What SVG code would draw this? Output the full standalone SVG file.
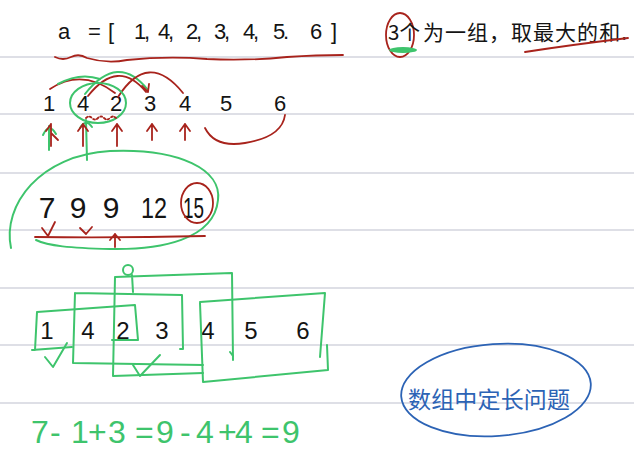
<svg xmlns="http://www.w3.org/2000/svg" width="634" height="461" viewBox="0 0 634 461">
<style>
.rule{stroke:#d3d5de;stroke-width:1.3}
.k{font-family:"Liberation Sans","DejaVu Sans",sans-serif;fill:#141414}
.cj{font-family:"Noto Sans CJK SC","Noto Sans",sans-serif}
.r{fill:none;stroke:#a8231c;stroke-width:1.8;stroke-linecap:round;stroke-linejoin:round}
.g{fill:none;stroke:#3ec46c;stroke-width:2;stroke-linecap:round;stroke-linejoin:round}
.b{fill:none;stroke:#2c63b5;stroke-width:1.8}
.gt{font-family:"Liberation Sans","DejaVu Sans",sans-serif;fill:#3ec46c}
</style>
<rect width="634" height="461" fill="#ffffff"/>
<g id="rules">
<line class="rule" x1="0" y1="57" x2="634" y2="57"/>
<line class="rule" x1="0" y1="114" x2="634" y2="114"/>
<line class="rule" x1="0" y1="173" x2="634" y2="173"/>
<line class="rule" x1="0" y1="230" x2="634" y2="230"/>
<line class="rule" x1="0" y1="288" x2="634" y2="288"/>
<line class="rule" x1="0" y1="345" x2="634" y2="345"/>
<line class="rule" x1="0" y1="403" x2="634" y2="403"/>
</g>
<g id="title">
<text class="k" font-size="22" y="39" x="58 88 108 134 144 158 168 186 196 214 224 243 253 273 283 310 331">a=[1,4,2,3,4,5.6]</text>
<path class="r" d="M55,57 q8,4 16,0 t16,1 q20,6 40,2 q40,-4 80,-1 q40,2 80,-2 q30,-2 56,-2"/>
</g>
<g id="note">
<ellipse class="r" cx="400" cy="35" rx="14" ry="22"/>
<ellipse cx="403" cy="50" rx="14" ry="3" fill="#3ec46c"/>
<text class="k cj" font-size="20" x="388" y="40" textLength="32" lengthAdjust="spacingAndGlyphs">3个</text>
<text class="k cj" font-size="21" x="423" y="40" textLength="204" lengthAdjust="spacing">为一组，取最大的和.</text>
<path class="r" d="M525,52 Q570,45 628,38"/>
</g>
<g id="row2">
<text class="k" font-size="22" y="111" text-anchor="middle"><tspan x="49">1</tspan><tspan x="83">4</tspan><tspan x="116">2</tspan><tspan x="150">3</tspan><tspan x="185">4</tspan><tspan x="226">5</tspan><tspan x="280">6</tspan></text>
</g>
<g id="connectors">
<path class="r" d="M50,89 Q82,68 115,93"/>
<path class="g" d="M58,84 Q80,72 100,79"/>
<path class="g" d="M85,94 Q118,52 148,90"/>
<path class="r" d="M88,96 Q118,58 146,92"/>
<path class="r" d="M142,86 L148,92 L149,84"/>
<path class="r" d="M118,97 Q148,50 183,93"/>
<ellipse class="g" cx="98" cy="103" rx="28" ry="20"/>
<path class="r" stroke-dasharray="2 2" d="M86,118 q3,-3 6,0 t6,0 t6,0 t6,0 t6,0"/>
<path class="g" d="M49,150 L49,126 M43,135 Q49,122 56,134"/>
<path class="g" d="M87,160 L86,120 M80,128 Q86,118 92,127"/>
<path class="r" d="M51,146 L51,124 M46,131 L51,124 M51,133 L58,140"/>
<path class="r" d="M83,146 L83,124 M78,131 L83,124 L88,131"/>
<path class="r" d="M117,146 L117,124 M112,131 L117,124 L122,131"/>
<path class="r" d="M152,140 L152,124 M147,131 L152,124 L157,131"/>
<path class="r" d="M185,140 L185,124 M180,131 L185,124 L190,131"/>
<path class="r" d="M205,128 Q215,148 245,143 Q282,137 285,115"/>
<path class="g" d="M11,248 C2,205 40,155 110,151 C180,148 222,170 218,200 C214,240 160,250 110,249 C70,248 48,246 36,240"/>
</g>
<g id="row3">
<text class="k" font-size="30" y="218" text-anchor="middle"><tspan x="47">7</tspan><tspan x="78">9</tspan><tspan x="111">9</tspan></text>
<text class="k" font-size="30" y="218" x="141" textLength="26" lengthAdjust="spacingAndGlyphs">12</text>
<text class="k" font-size="30" y="218" x="183" textLength="21" lengthAdjust="spacingAndGlyphs">15</text>
<ellipse class="r" cx="197" cy="203" rx="16" ry="20"/>
<path class="r" d="M42,228 L48,236 L55,222 M80,228 L86,234 L92,227"/>
<path class="r" d="M35,237 Q120,238 205,236"/>
<path class="r" d="M115,247 L115,234 M110,240 L115,234 L120,240"/>
</g>
<g id="row4">
<text class="k" font-size="24" y="339" text-anchor="middle"><tspan x="47">1</tspan><tspan x="88">4</tspan><tspan x="123">2</tspan><tspan x="162">3</tspan><tspan x="208">4</tspan><tspan x="251">5</tspan><tspan x="303">6</tspan></text>
</g>
<g id="windows">
<path class="g" d="M37,312 L135,305 L138,340 L112,340 M37,312 L35,350 M32,350 L72,347"/>
<path class="g" d="M75,293 L182,295 L183,349 L180,349 M75,293 L73,363 L203,365"/>
<path class="g" d="M115,277 L232,273 L233,360 M115,277 L113,376 L203,373 M132,275 L133,292"/>
<circle class="g" cx="128" cy="270" r="5"/>
<path class="g" d="M200,302 L325,293 L320,357 M200,303 L203,382 L328,370 L327,345 M230,352 L233,356"/>
<path class="g" d="M45,357 L53,367 L67,343 M133,365 L140,376 L160,355"/>
</g>
<g id="equation">
<text class="gt" font-size="32" y="443" x="31 50 71 88 108 135 156 180 196 218 235 261 282">7-1+3=9-4+4=9</text>
</g>
<g id="topic">
<ellipse class="b" cx="496" cy="390" rx="95" ry="46" transform="rotate(-4 496 390)"/>
<text class="cj" font-size="23" fill="#2c63b5" x="408" y="408" textLength="162" lengthAdjust="spacing">数组中定长问题</text>
</g>
</svg>
